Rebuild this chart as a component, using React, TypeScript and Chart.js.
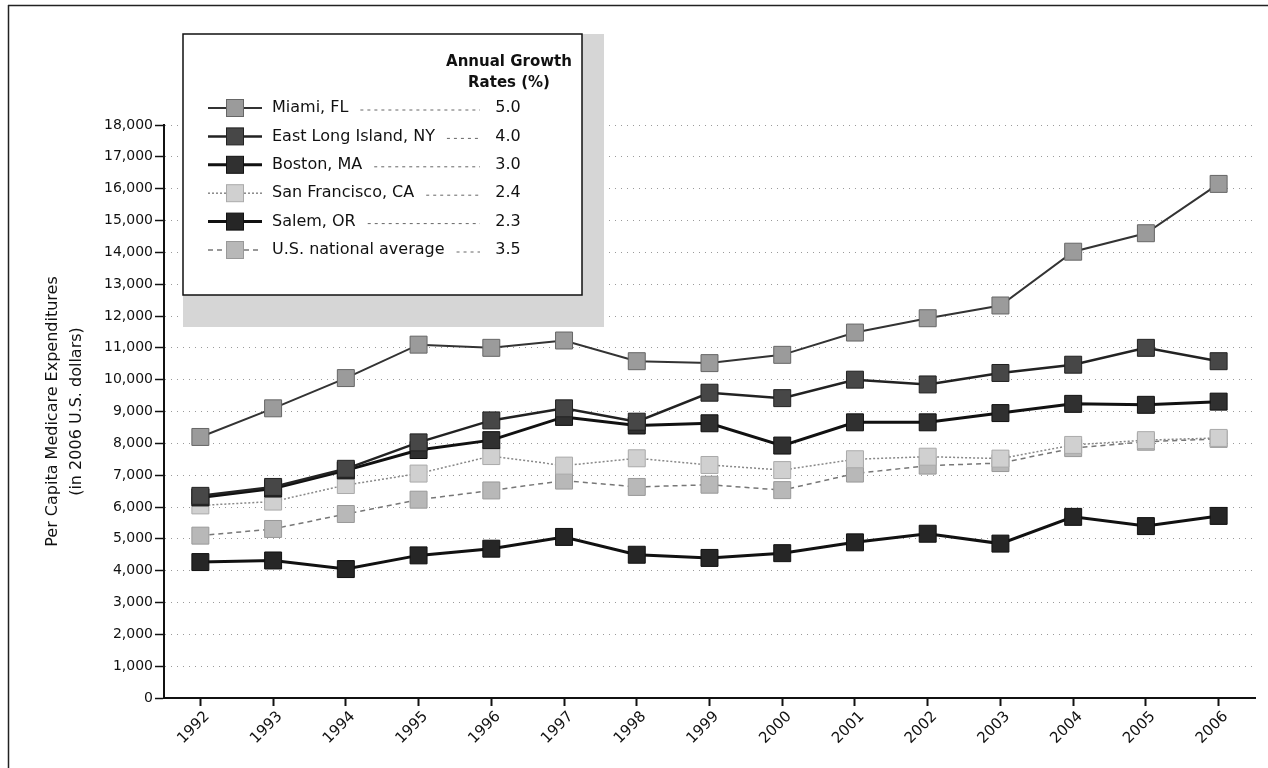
import React, { useEffect, useRef } from 'react';
import { Chart, registerables } from 'chart.js';

Chart.register(...registerables);

const years = ['1992', '1993', '1994', '1995', '1996', '1997', '1998', '1999', '2000', '2001', '2002', '2003', '2004', '2005', '2006'];

const miami = [8200, 9100, 10050, 11100, 11000, 11230, 10580, 10520, 10780, 11480, 11930, 12330, 14020, 14600, 16150];
const eastLongIsland = [6350, 6630, 7200, 8030, 8720, 9100, 8680, 9590, 9420, 10000, 9850, 10210, 10470, 11000, 10580];
const boston = [6300, 6580, 7150, 7790, 8100, 8830, 8560, 8630, 7930, 8660, 8660, 8950, 9240, 9210, 9310];
const sanFrancisco = [6050, 6170, 6690, 7050, 7600, 7300, 7530, 7320, 7160, 7500, 7580, 7520, 7950, 8100, 8170];
const salem = [4270, 4320, 4050, 4480, 4690, 5060, 4500, 4400, 4550, 4890, 5160, 4850, 5690, 5400, 5720];
const usAverage = [5100, 5310, 5780, 6230, 6520, 6830, 6630, 6700, 6530, 7050, 7300, 7380, 7850, 8050, 8140];

const seriesNames = ['Miami, FL', 'East Long Island, NY', 'Boston, MA', 'San Francisco, CA', 'Salem, OR', 'U.S. national average'];
const growthRates = ['5.0', '4.0', '3.0', '2.4', '2.3', '3.5'];
const growthHeader = ['Annual Growth', 'Rates (%)'];
const yTitle = ['Per Capita Medicare Expenditures', '(in 2006 U.S. dollars)'];

const FONT = '"DejaVu Sans", sans-serif';

const legendPlugin = {
  id: 'growthLegend',
  afterDraw(chart: any) {
    const ctx = chart.ctx as CanvasRenderingContext2D;
    ctx.save();
    // soft shadow around right and bottom
    ctx.fillStyle = '#d6d6d6';
    ctx.fillRect(183, 34, 421, 293);
    // box
    ctx.fillStyle = '#ffffff';
    ctx.fillRect(183, 34, 399, 261);
    ctx.strokeStyle = '#111';
    ctx.lineWidth = 1.5;
    ctx.strokeRect(183, 34, 399, 261);
    // header
    ctx.fillStyle = '#111';
    ctx.font = 'bold 15px ' + FONT;
    ctx.textAlign = 'center';
    ctx.textBaseline = 'middle';
    ctx.fillText(growthHeader[0], 509, 62);
    ctx.fillText(growthHeader[1], 509, 83);

    chart.data.datasets.forEach((ds: any, i: number) => {
      const y = 108 + i * 28.4;
      ctx.save();
      ctx.strokeStyle = ds.borderColor;
      ctx.lineWidth = ds.borderWidth;
      ctx.setLineDash(ds.borderDash || []);
      ctx.beginPath();
      ctx.moveTo(208, y);
      ctx.lineTo(262, y);
      ctx.stroke();
      ctx.restore();
      const s = 17;
      ctx.fillStyle = ds.pointBackgroundColor;
      ctx.fillRect(235 - s / 2, y - s / 2, s, s);
      ctx.strokeStyle = ds.pointBorderColor;
      ctx.lineWidth = 1;
      ctx.strokeRect(235 - s / 2, y - s / 2, s, s);

      ctx.fillStyle = '#111';
      ctx.font = '16px ' + FONT;
      ctx.textAlign = 'left';
      ctx.fillText(ds.label, 272, y);
      const w = ctx.measureText(ds.label).width;
      ctx.save();
      ctx.strokeStyle = '#666';
      ctx.lineWidth = 1;
      ctx.setLineDash([3, 4]);
      ctx.beginPath();
      ctx.moveTo(272 + w + 12, y + 2);
      ctx.lineTo(480, y + 2);
      ctx.stroke();
      ctx.restore();
      ctx.textAlign = 'center';
      ctx.fillText(growthRates[i], 508, y);
    });
    ctx.restore();
  },
};

const framePlugin = {
  id: 'frame',
  afterDraw(chart: any) {
    const ctx = chart.ctx as CanvasRenderingContext2D;
    ctx.save();
    ctx.strokeStyle = '#222';
    ctx.lineWidth = 1.5;
    ctx.beginPath();
    ctx.moveTo(8.5, 5);
    ctx.lineTo(8.5, 768);
    ctx.moveTo(8, 5.5);
    ctx.lineTo(1268, 5.5);
    ctx.stroke();
    ctx.restore();
  },
};

export default function App() {
  const ref = useRef<HTMLCanvasElement>(null);

  useEffect(() => {
    const canvas = ref.current;
    if (!canvas) return;
    Chart.defaults.font.family = FONT;
    const mk = (label: string, data: number[], line: string, width: number, dash: number[], fill: string, border: string) => ({
      label,
      data,
      borderColor: line,
      borderWidth: width,
      borderDash: dash,
      pointStyle: 'rect' as const,
      pointRadius: 12,
      pointHoverRadius: 12,
      pointBackgroundColor: fill,
      pointBorderColor: border,
      pointBorderWidth: 1,
      fill: false,
      tension: 0,
    });
    const chart = new Chart(canvas, {
      type: 'line',
      data: {
        labels: years,
        datasets: [
          mk(seriesNames[0], miami, '#333', 2, [], '#9b9b9b', '#666'),
          mk(seriesNames[1], eastLongIsland, '#222', 2.5, [], '#474747', '#222'),
          mk(seriesNames[2], boston, '#111', 3, [], '#303030', '#111'),
          mk(seriesNames[3], sanFrancisco, '#888', 1.5, [2, 2], '#d0d0d0', '#aaa'),
          mk(seriesNames[4], salem, '#111', 3, [], '#262626', '#111'),
          mk(seriesNames[5], usAverage, '#777', 1.5, [5, 4], '#b8b8b8', '#999'),
        ],
      },
      options: {
        responsive: false,
        animation: false,
        devicePixelRatio: 1,
        layout: { padding: { top: 125, left: 0, right: 8, bottom: 0 } },
        plugins: {
          legend: { display: false },
          tooltip: { enabled: false },
        },
        scales: {
          x: {
            type: 'category',
            offset: true,
            grid: {
              display: true,
              drawOnChartArea: false,
              drawTicks: true,
              tickLength: 8,
              tickWidth: 2,
              tickColor: '#111',
            },
            border: { display: true, color: '#111', width: 2 },
            ticks: {
              color: '#111',
              font: { size: 15, family: FONT },
              minRotation: 45,
              maxRotation: 45,
              padding: 2,
              labelOffset: 7,
              autoSkip: false,
            },
            afterFit: (scale: any) => {
              scale.height = 70;
            },
          },
          y: {
            type: 'linear',
            min: 0,
            max: 18000,
            grid: {
              color: '#9a9a9a',
              lineWidth: 1,
              drawTicks: true,
              tickLength: 9,
              tickWidth: 1.5,
              tickColor: '#111',
            },
            border: { display: true, color: '#111', width: 2, dash: [1, 5] },
            ticks: {
              stepSize: 1000,
              color: '#111',
              font: { size: 14, family: FONT },
              padding: 2,
              callback: (v: any) => Number(v).toLocaleString('en-US'),
            },
            title: {
              display: true,
              text: yTitle,
              color: '#111',
              font: { size: 16, family: FONT, lineHeight: 1.5 },
              padding: { top: 41, bottom: 0 },
            },
            afterFit: (scale: any) => {
              scale.width = 164;
            },
          },
        },
      },
      plugins: [legendPlugin, framePlugin],
    });
    return () => chart.destroy();
  }, []);

  return (
    <div style={{ position: 'absolute', left: 0, top: 0, width: 1268, height: 768, background: '#fff' }}>
      <canvas ref={ref} width={1268} height={768} style={{ display: 'block' }} />
    </div>
  );
}
